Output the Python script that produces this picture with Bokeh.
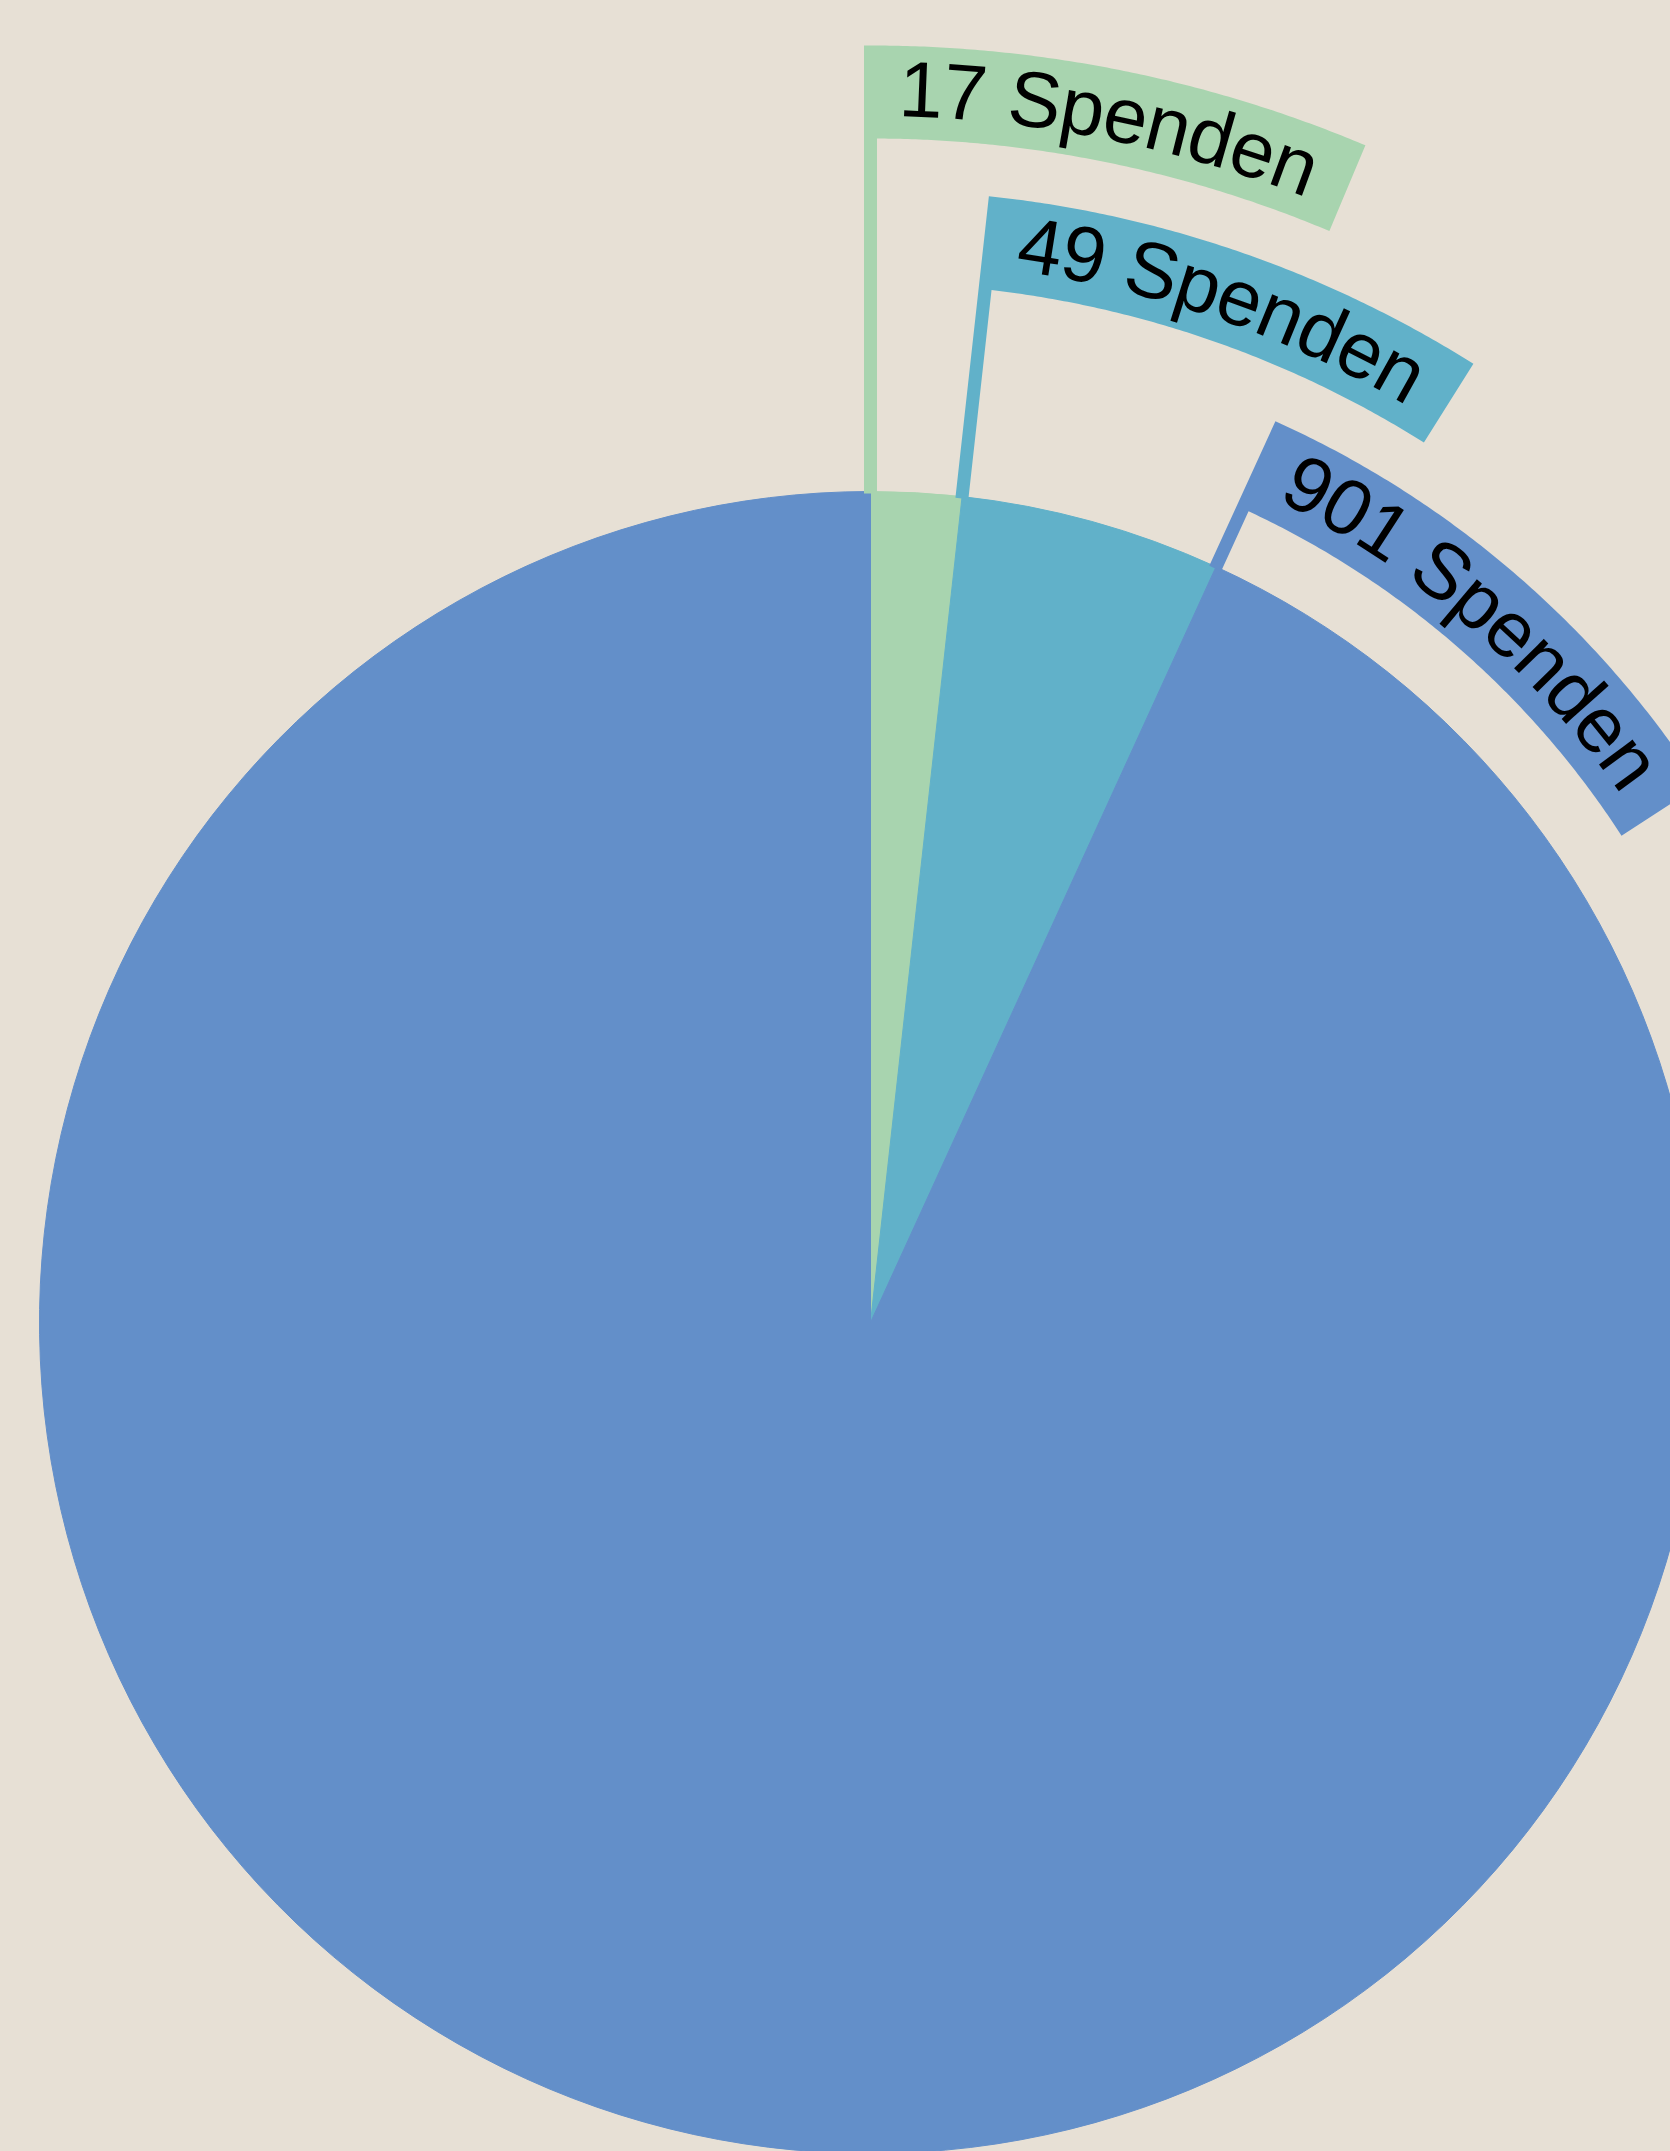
import math
from bokeh.plotting import figure
from bokeh.models import Range1d
from bokeh.embed import file_html
from bokeh.resources import INLINE
from bokeh.core.properties import value

# ---------------- data ----------------
counts = [17, 49, 901]
labels = ["17 Spenden", "49 Spenden", "901 Spenden"]
colors = ["#a8d4af", "#61b1c9", "#638fc9"]
BG = "#e7e0d5"

# ---------------- layout (page pixels) ----------------
W, H = 1670, 2151
CX = 870.0
CY = H - 1322.0               # data y is page y flipped
R = 831.0
FS = 79                       # label font size (px)
STEM = 13.0                   # connector width
BAND = 93.0                   # band thickness
OUT0 = R + 157.0              # outer radius of the innermost band
STEP = 144.5                  # distance between band levels
PAD_TOTAL = 54.0 + 5.393 * 3  # band length beyond the label (both sides)
BASE_OFF = -3.5               # label baseline relative to the band's mid radius

# Liberation Sans (Arial metric) advance widths, per 1000 em
ADV = {" ": 278, "S": 667}
for ch in "0123456789":
    ADV[ch] = 556
for ch in "pend":
    ADV[ch] = 556


def adv(ch):
    return ADV.get(ch, 556) * FS / 1000.0


def pt(r, phi):
    # compass angle phi (clockwise from north)
    return CX + r * math.sin(phi), CY + r * math.cos(phi)


p = figure(width=W, height=H,
           x_range=Range1d(0, W), y_range=Range1d(0, H),
           output_backend="svg", toolbar_location=None,
           x_axis_type=None, y_axis_type=None,
           min_border=0, background_fill_color=BG, border_fill_color=BG,
           outline_line_color=None)
p.grid.grid_line_color = None

total = float(sum(counts))
n = len(counts)
cum = 0.0
wedge_start, wedge_end = [], []
patch_xs, patch_ys = [], []
tx, ty, tt, ta = [], [], [], []
h = STEM / 2.0
for i, (c, lab) in enumerate(zip(counts, labels)):
    th0 = 2 * math.pi * cum / total
    th1 = 2 * math.pi * (cum + c) / total
    cum += c
    # bokeh angles: counterclockwise from +x
    wedge_start.append(math.pi / 2 - th1)
    wedge_end.append(math.pi / 2 - th0)

    level = n - 1 - i
    r_out = OUT0 + STEP * level
    r_in = r_out - BAND
    r_mid = (r_out + r_in) / 2.0
    tw = sum(adv(ch) for ch in lab)
    pad = PAD_TOTAL / 2.0
    a_band0 = th0 - h / r_mid
    a_end = a_band0 + (2 * pad + tw) / r_mid

    ux, uy = math.sin(th0), math.cos(th0)
    nx, ny = math.cos(th0), -math.sin(th0)
    xs, ys = [], []
    t0 = R - 2
    xs.append(CX + t0 * ux - h * nx); ys.append(CY + t0 * uy - h * ny)
    a_o0 = th0 - math.asin(h / r_out)
    a_i0 = th0 + math.asin(h / r_in)
    N = 120
    for k in range(N + 1):
        a = a_o0 + (a_end - a_o0) * k / N
        x, y = pt(r_out, a)
        xs.append(x); ys.append(y)
    for k in range(N + 1):
        a = a_end + (a_i0 - a_end) * k / N
        x, y = pt(r_in, a)
        xs.append(x); ys.append(y)
    xs.append(CX + t0 * ux + h * nx); ys.append(CY + t0 * uy + h * ny)
    patch_xs.append(xs); patch_ys.append(ys)

    # label characters laid along the band
    s = pad
    r_b = r_mid - BASE_OFF
    for ch in lab:
        w = adv(ch)
        phi = a_band0 + (s + w / 2.0) / r_mid
        s += w
        if ch == " ":
            continue
        x, y = pt(r_b, phi)
        tx.append(x); ty.append(y); tt.append(ch); ta.append(-phi)

p.wedge(x=[CX] * n, y=[CY] * n, radius=R, radius_units="data",
        start_angle=wedge_start, end_angle=wedge_end, direction="anticlock",
        fill_color=colors, line_color=colors, line_width=1)
p.patches(xs=patch_xs, ys=patch_ys, fill_color=colors, line_color=None)
p.text(x=tx, y=ty, text=tt, angle=ta, text_align="center",
       text_baseline="alphabetic", text_font=value("Liberation Sans"),
       text_font_size=f"{FS}px", text_color="#000000")

html = file_html(p, INLINE, "Spenden")
html = html.replace("</head>", "<style>html,body{background:%s;margin:0;}</style></head>" % BG, 1)
open("out.html", "w").write(html)
